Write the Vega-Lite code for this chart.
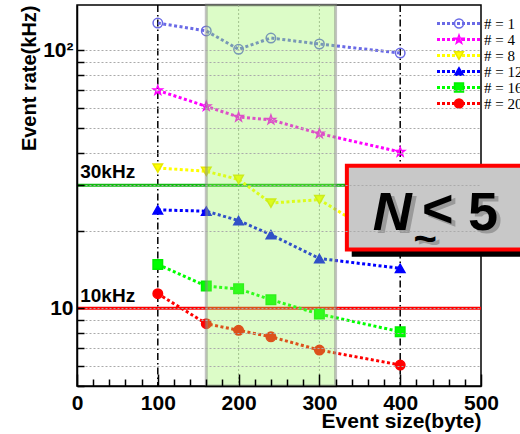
{
  "$schema": "https://vega.github.io/schema/vega-lite/v6.json",
  "width": 404,
  "height": 381,
  "autosize": {"type": "none"},
  "padding": {"left": 77, "top": 5, "right": 39, "bottom": 48},
  "background": "white",
  "config": {"view": {"stroke": "black", "strokeWidth": 1.5}, "font": "Liberation Sans"},
  "resolve": {"axis": {"x": "independent"}},
  "datasets": {
    "series": [
      {"series": "# = 1", "x": 100, "y": 127.7}, {"series": "# = 1", "x": 160, "y": 119}, {"series": "# = 1", "x": 200, "y": 101}, {"series": "# = 1", "x": 240, "y": 111.7}, {"series": "# = 1", "x": 300, "y": 105.9}, {"series": "# = 1", "x": 400, "y": 97.7},
      {"series": "# = 4", "x": 100, "y": 70}, {"series": "# = 4", "x": 160, "y": 60.7}, {"series": "# = 4", "x": 200, "y": 55.2}, {"series": "# = 4", "x": 240, "y": 53.8}, {"series": "# = 4", "x": 300, "y": 47.6}, {"series": "# = 4", "x": 400, "y": 40.4},
      {"series": "# = 8", "x": 100, "y": 35}, {"series": "# = 8", "x": 160, "y": 34}, {"series": "# = 8", "x": 200, "y": 31.6}, {"series": "# = 8", "x": 240, "y": 25.6}, {"series": "# = 8", "x": 300, "y": 26.4}, {"series": "# = 8", "x": 400, "y": 17},
      {"series": "# = 12", "x": 100, "y": 24.1}, {"series": "# = 12", "x": 160, "y": 23.8}, {"series": "# = 12", "x": 200, "y": 21.9}, {"series": "# = 12", "x": 240, "y": 19.3}, {"series": "# = 12", "x": 300, "y": 15.6}, {"series": "# = 12", "x": 400, "y": 14.3},
      {"series": "# = 16", "x": 100, "y": 14.8}, {"series": "# = 16", "x": 160, "y": 12.2}, {"series": "# = 16", "x": 200, "y": 11.9}, {"series": "# = 16", "x": 240, "y": 10.8}, {"series": "# = 16", "x": 300, "y": 9.5}, {"series": "# = 16", "x": 400, "y": 8.12},
      {"series": "# = 20", "x": 100, "y": 11.4}, {"series": "# = 20", "x": 160, "y": 8.72}, {"series": "# = 20", "x": 200, "y": 8.22}, {"series": "# = 20", "x": 240, "y": 7.76}, {"series": "# = 20", "x": 300, "y": 6.89}, {"series": "# = 20", "x": 400, "y": 6.03}
    ],
    "vgrid": [{"x": 200}, {"x": 300}],
    "vref": [{"x": 100}, {"x": 400}],
    "h30": [{"x": 4, "y": 30, "label": "30kHz"}],
    "h10": [{"x": 4, "y": 10, "label": "10kHz"}],
    "region": [{"x": 160, "x2": 320}],
    "shadow": [{"x": 340, "x2": 580, "y": 15.86, "y2": 34.2}],
    "box": [{"x": 334, "x2": 580, "y": 16.9, "y2": 35.7}],
    "note": [
      {"part": "N", "x": 366, "y": 20.2},
      {"part": "<", "x": 427, "y": 20.6},
      {"part": "5", "x": 484, "y": 20.2},
      {"part": "~", "x": 431, "y": 16.6}
    ]
  },
  "layer": [
    {
      "data": {"name": "vgrid"},
      "mark": {"type": "rule", "color": "#aaaaaa", "strokeWidth": 1, "strokeDash": [2, 2]},
      "encoding": {
        "x": {"field": "x", "type": "quantitative", "scale": {"domain": [0, 500], "nice": false},
          "axis": {"orient": "bottom", "title": "Event size(byte)", "values": [0, 100, 200, 300, 400, 500], "labelFlush": false, "labelOverlap": false,
            "labelFontSize": 21, "labelFontWeight": "bold", "labelColor": "black",
            "labelPadding": 18, "labelBaseline": "top", "ticks": true, "tickSize": -12, "tickColor": "black", "tickWidth": 1.5, "domainColor": "black", "domainWidth": 1.5, "grid": false,
            "titleFontSize": 21, "titleFontWeight": "bold", "titleColor": "black", "titleAnchor": "end", "titleAlign": "right", "titleBaseline": "alphabetic", "titleY": 41, "zindex": 1}}
      }
    },
    {
      "data": {"name": "vref"},
      "mark": {"type": "rule", "color": "black", "strokeWidth": 1.5, "strokeDash": [7, 3, 1.5, 3]},
      "encoding": {"x": {"field": "x", "type": "quantitative",
        "axis": {"orient": "bottom", "title": null, "values": [20,40,60,80,120,140,160,180,220,240,260,280,320,340,360,380,420,440,460,480], "labels": false,
          "domain": false, "grid": false, "ticks": true, "tickSize": -7, "tickColor": "black", "tickWidth": 1.5, "zindex": 1}}}
    },
    {
      "data": {"name": "h30"},
      "mark": {"type": "rule", "color": "#11bb11", "strokeWidth": 3},
      "encoding": {"y": {"field": "y", "type": "quantitative"}}
    },
    {
      "data": {"name": "h10"},
      "mark": {"type": "rule", "color": "#ff0000", "strokeWidth": 3},
      "encoding": {"y": {"field": "y", "type": "quantitative"}}
    },
    {
      "data": {"name": "series"},
      "mark": {"type": "line", "strokeWidth": 3, "strokeDash": [3, 2.5]},
      "encoding": {
        "x": {"field": "x", "type": "quantitative", "axis": null},
        "y": {"field": "y", "type": "quantitative", "scale": {"type": "log", "domain": [5, 150], "nice": false},
          "axis": {"title": "Event rate(kHz)", "values": [5,6,7,8,9,10,20,30,40,50,60,70,80,90,100],
            "labelExpr": "datum.value == 100 ? '10²' : datum.value == 10 ? '10' : ''", "labelOverlap": false, "labelFontSize": 21, "labelFontWeight": "bold", "labelColor": "black",
            "labelPadding": 11, "ticks": true, "tickSize": -7, "tickColor": "black", "tickWidth": 1.5, "domainColor": "black", "domainWidth": 1.5,
            "grid": true, "gridColor": "#aaaaaa", "gridDash": [2, 2], "gridWidth": 1,
            "titleFontSize": 20, "titleFontWeight": "bold", "titleColor": "black", "titleAnchor": "end", "titleAlign": "right", "titleAngle": 270, "titleBaseline": "alphabetic", "titleX": -42, "zindex": 1}},
        "color": {"field": "series", "type": "nominal", "sort": ["# = 1", "# = 4", "# = 8", "# = 12", "# = 16", "# = 20"],
          "scale": {"range": ["#6a6ae6", "#ff00ff", "#ffff00", "#0000ff", "#00ff00", "#ff0000"]},
          "legend": {"orient": "none", "legendX": 375, "legendY": 11, "title": null, "padding": 0, "symbolType": "M-7.5,0H7.5", "symbolSize": 36, "symbolStrokeWidth": 3, "symbolDash": [3, 2],
            "labelFont": "Liberation Serif", "labelFontSize": 15, "labelColor": "black", "labelOffset": 17, "rowPadding": 0, "labelLimit": 300}}
      }
    },
    {
      "data": {"name": "series"},
      "mark": {"type": "point", "size": 90, "strokeWidth": 1.5, "opacity": 1},
      "encoding": {
        "x": {"field": "x", "type": "quantitative", "axis": null},
        "y": {"field": "y", "type": "quantitative"},
        "stroke": {"field": "series", "type": "nominal",
          "scale": {"domain": ["# = 1", "# = 4", "# = 8", "# = 12", "# = 16", "# = 20"], "range": ["#6a6ae6", "#ff00ff", "#e8e800", "#0000ff", "#00ee00", "#ff0000"]},
          "legend": {"orient": "none", "legendX": 374.5, "legendY": 11, "title": null, "padding": 0, "symbolSize": 80, "symbolStrokeWidth": 1.5,
            "labelFontSize": 15, "labelOpacity": 0, "rowPadding": 0,
            "encode": {"symbols": {"update": {"fill": {"scale": "fill", "field": "value"}}}}}},
        "shape": {"field": "series", "type": "nominal",
          "scale": {"domain": ["# = 1", "# = 4", "# = 8", "# = 12", "# = 16", "# = 20"], "range": ["circle", "M0,-1L0.235,-0.324L0.951,-0.309L0.38,0.124L0.588,0.809L0,0.4L-0.588,0.809L-0.38,0.124L-0.951,-0.309L-0.235,-0.324Z", "triangle-down", "triangle-up", "square", "circle"]},
          "legend": {"orient": "none", "legendX": 374.5, "legendY": 11, "title": null, "padding": 0, "symbolSize": 80, "symbolStrokeWidth": 1.5,
            "labelFontSize": 15, "labelOpacity": 0, "rowPadding": 0}},
        "fill": {"field": "series", "type": "nominal",
          "scale": {"domain": ["# = 1", "# = 4", "# = 8", "# = 12", "# = 16", "# = 20"], "range": ["transparent", "transparent", "#ffff00", "#0000ff", "#00ff00", "#ff0000"]}, "legend": null}
      }
    },
    {
      "data": {"name": "h30"},
      "mark": {"type": "text", "align": "left", "baseline": "alphabetic", "dy": -7, "fontSize": 19, "fontWeight": "bold", "color": "black"},
      "encoding": {"x": {"field": "x", "type": "quantitative", "axis": null}, "y": {"field": "y", "type": "quantitative"}, "text": {"field": "label"}}
    },
    {
      "data": {"name": "h10"},
      "mark": {"type": "text", "align": "left", "baseline": "alphabetic", "dy": -6, "fontSize": 19, "fontWeight": "bold", "color": "black"},
      "encoding": {"x": {"field": "x", "type": "quantitative", "axis": null}, "y": {"field": "y", "type": "quantitative"}, "text": {"field": "label"}}
    },
    {
      "data": {"name": "region"},
      "mark": {"type": "rect", "fill": "#96f656", "fillOpacity": 0.33, "stroke": "#888888", "strokeOpacity": 0.5, "strokeWidth": 3},
      "encoding": {"x": {"field": "x", "type": "quantitative", "axis": null}, "x2": {"field": "x2"}}
    },
    {
      "data": {"name": "shadow"},
      "mark": {"type": "rect", "fill": "black"},
      "encoding": {"x": {"field": "x", "type": "quantitative", "axis": null}, "x2": {"field": "x2"}, "y": {"field": "y", "type": "quantitative"}, "y2": {"field": "y2"}}
    },
    {
      "data": {"name": "box"},
      "mark": {"type": "rect", "fill": "#c8c8c8", "stroke": "#ff0000", "strokeWidth": 4},
      "encoding": {"x": {"field": "x", "type": "quantitative", "axis": null}, "x2": {"field": "x2"}, "y": {"field": "y", "type": "quantitative"}, "y2": {"field": "y2"}}
    },
    {
      "data": {"name": "note"},
      "transform": [{"filter": "datum.part == 'N'"}],
      "mark": {"type": "text", "align": "left", "baseline": "alphabetic", "fontSize": 54, "fontWeight": "bold", "fontStyle": "italic", "color": "#9a9a9a", "dx": 4, "dy": 3},
      "encoding": {"x": {"field": "x", "type": "quantitative", "axis": null}, "y": {"field": "y", "type": "quantitative"}, "text": {"field": "part"}}
    },
    {
      "data": {"name": "note"},
      "transform": [{"filter": "datum.part == '<' || datum.part == '5'"}],
      "mark": {"type": "text", "align": "left", "baseline": "alphabetic", "fontSize": 54, "fontWeight": "bold", "color": "#9a9a9a", "dx": 4, "dy": 3},
      "encoding": {"x": {"field": "x", "type": "quantitative", "axis": null}, "y": {"field": "y", "type": "quantitative"}, "text": {"field": "part"}}
    },
    {
      "data": {"name": "note"},
      "transform": [{"filter": "datum.part == '~'"}],
      "mark": {"type": "text", "align": "center", "baseline": "alphabetic", "fontSize": 40, "fontWeight": "bold", "color": "#9a9a9a", "dx": 4, "dy": 3},
      "encoding": {"x": {"field": "x", "type": "quantitative", "axis": null}, "y": {"field": "y", "type": "quantitative"}, "text": {"field": "part"}}
    },
    {
      "data": {"name": "note"},
      "transform": [{"filter": "datum.part == 'N'"}],
      "mark": {"type": "text", "align": "left", "baseline": "alphabetic", "fontSize": 54, "fontWeight": "bold", "fontStyle": "italic", "color": "black"},
      "encoding": {"x": {"field": "x", "type": "quantitative", "axis": null}, "y": {"field": "y", "type": "quantitative"}, "text": {"field": "part"}}
    },
    {
      "data": {"name": "note"},
      "transform": [{"filter": "datum.part == '<' || datum.part == '5'"}],
      "mark": {"type": "text", "align": "left", "baseline": "alphabetic", "fontSize": 54, "fontWeight": "bold", "color": "black"},
      "encoding": {"x": {"field": "x", "type": "quantitative", "axis": null}, "y": {"field": "y", "type": "quantitative"}, "text": {"field": "part"}}
    },
    {
      "data": {"name": "note"},
      "transform": [{"filter": "datum.part == '~'"}],
      "mark": {"type": "text", "align": "center", "baseline": "alphabetic", "fontSize": 40, "fontWeight": "bold", "color": "black"},
      "encoding": {"x": {"field": "x", "type": "quantitative", "axis": null}, "y": {"field": "y", "type": "quantitative"}, "text": {"field": "part"}}
    }
  ]
}
